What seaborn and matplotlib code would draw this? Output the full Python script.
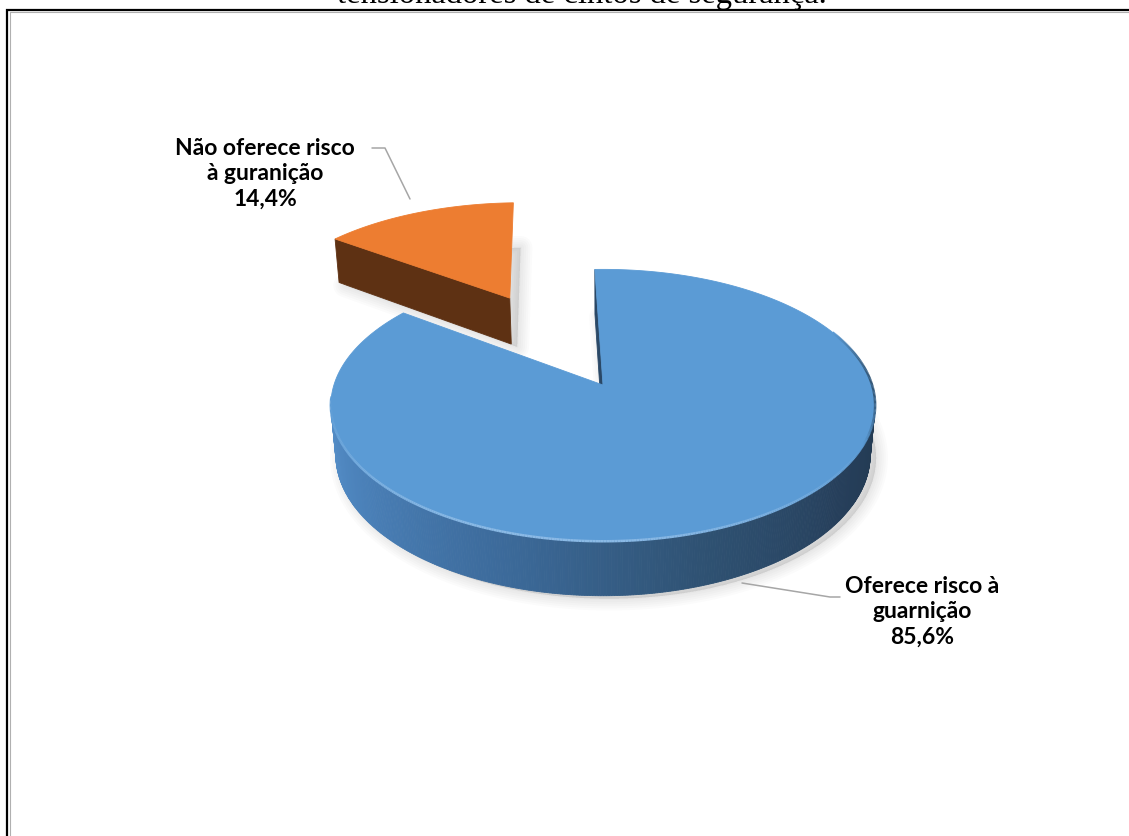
import numpy as np
import matplotlib
matplotlib.use("Agg")
import matplotlib.pyplot as plt
import seaborn as sns
from matplotlib.patches import Polygon
from matplotlib.collections import LineCollection
from matplotlib.colors import LinearSegmentedColormap, to_rgb

sns.set_theme(style="white")
plt.rcParams["font.family"] = ["Lato", "DejaVu Sans"]

# ---- data ----
labels = ["Não oferece risco\nà guranição", "Oferece risco à\nguarnição"]
values = [14.4, 85.6]
top_colors = ["#ED7D31", "#5B9BD5"]
side_colors = ["#5E3113", "#2A4866"]
explode = [0.82, 0.0]
heading = "tensionadores de cintos de segurança."

# ---- 3D view of the pie (unit radius disc, perspective camera) ----
phi = np.radians(29.6)          # elevation of the camera
dist = 5.82                     # camera distance in radii
focal = 1566.0                  # pixels per unit at the image plane
cx, cy = 603.0, 385.0           # image position of the pie centre
thick = 0.2145                  # disc thickness in radii
start_angle = 92.0

cphi, sphi = np.cos(phi), np.sin(phi)
camera = np.array([0.0, -dist * cphi, dist * sphi])


def project(X, Y, Z):
    X, Y, Z = np.asarray(X, float), np.asarray(Y, float), np.asarray(Z, float)
    yc = Y * sphi + Z * cphi
    zc = dist + Y * cphi - Z * sphi
    return cx + focal * X / zc, cy - focal * yc / zc, zc


def facing(point, normal):
    return float(np.dot(camera - np.asarray(point), np.asarray(normal))) > 0


blue_wall = LinearSegmentedColormap.from_list(
    "wall", ["#5A95D0", "#4A80B8", "#3C6A9A", "#2F5273", "#263F5B", "#22394F"])


def wall_color(theta_deg, idx):
    if idx == 0:
        return side_colors[0]
    t = ((theta_deg % 360) - 180.0) / 180.0
    t = np.clip(t, 0, 1)
    return blue_wall(t)


def poly_area(pts):
    p = np.asarray(pts)
    x, y = p[:, 0], p[:, 1]
    return 0.5 * abs(np.dot(x, np.roll(y, 1)) - np.dot(y, np.roll(x, 1)))


fig = plt.figure(figsize=(11.29, 8.36), dpi=100)
ax = fig.add_axes([0, 0, 1, 1])
ax.set_xlim(0, 1129)
ax.set_ylim(836, 0)
ax.axis("off")

total = float(sum(values))
slices = []
a0 = start_angle
for i, v in enumerate(values):
    span = 360.0 * v / total
    a1 = a0 + span
    mid = np.radians((a0 + a1) / 2)
    ox, oy = explode[i] * np.cos(mid), explode[i] * np.sin(mid)
    slices.append((i, a0, a1, ox, oy))
    a0 = a1

# far slices first
order = sorted(slices, key=lambda s: -project(s[3], s[4], 0)[2])

# soft floor shadow
for i, a0, a1, ox, oy in order:
    th = np.radians(np.linspace(a0, a1, 200))
    X = np.concatenate([[ox], ox + np.cos(th)])
    Y = np.concatenate([[oy], oy + np.sin(th)])
    px, py, _ = project(X, Y, np.full_like(X, -thick))
    pts = np.column_stack([px + 6, py + 3])
    for k in range(6):
        ax.add_patch(Polygon(pts, closed=True, facecolor="#000000", edgecolor="#000000",
                             alpha=0.016, lw=2 + 3 * k, joinstyle="round", zorder=1))

for i, a0, a1, ox, oy in order:
    n = max(int((a1 - a0) * 2), 20)
    th_deg = np.linspace(a0, a1, n)
    th = np.radians(th_deg)
    RX, RY = ox + np.cos(th), oy + np.sin(th)
    tx, ty, tz = project(RX, RY, np.zeros(n))
    bx, by, bz = project(RX, RY, np.full(n, -thick))
    vtx = project(ox, oy, 0)
    vbx = project(ox, oy, -thick)

    faces = []
    # outer wall, only the parts turned towards the camera
    for j in range(n - 1):
        tm = np.radians((th_deg[j] + th_deg[j + 1]) / 2)
        pm = (ox + np.cos(tm), oy + np.sin(tm), -thick / 2)
        if not facing(pm, (np.cos(tm), np.sin(tm), 0)):
            continue
        quad = [(tx[j], ty[j]), (tx[j + 1], ty[j + 1]), (bx[j + 1], by[j + 1]), (bx[j], by[j])]
        depth = (tz[j] + tz[j + 1] + bz[j] + bz[j + 1]) / 4
        faces.append((depth, quad, wall_color(np.degrees(tm), i)))
    # the two radial cut faces
    for k, ang in ((0, a0), (n - 1, a1)):
        r = np.radians(ang)
        normal = (np.sin(r), -np.cos(r), 0) if k == 0 else (-np.sin(r), np.cos(r), 0)
        if not facing((ox, oy, -thick / 2), normal):
            continue
        quad = [(vtx[0], vtx[1]), (tx[k], ty[k]), (bx[k], by[k]), (vbx[0], vbx[1])]
        # an exploded wedge shows only its broad cut face; slivers stay hidden
        if explode[i] > 0 and poly_area(quad) < 600:
            continue
        depth = (vtx[2] + tz[k] + bz[k] + vbx[2]) / 4
        faces.append((depth, quad, side_colors[i]))
    faces.sort(key=lambda f: -f[0])
    for _, quad, col in faces:
        ax.add_patch(Polygon(quad, closed=True, facecolor=col, edgecolor=col,
                             lw=0.6, zorder=2))

    top = np.column_stack([np.concatenate([[vtx[0]], tx]), np.concatenate([[vtx[1]], ty])])
    ax.add_patch(Polygon(top, closed=True, facecolor=top_colors[i],
                         edgecolor=top_colors[i], lw=0.6, zorder=3))

    # bevel along the rim of the top face: light at the front, dark at the right
    if i == 1:
        segs, cols = [], []
        base = np.array(to_rgb(top_colors[i]))
        light = np.array([0.78, 0.88, 0.98])
        for j in range(n - 1):
            ang = ((th_deg[j] + th_deg[j + 1]) / 2) % 360
            if 185 <= ang <= 335:
                w = np.sin(np.radians((ang - 185) * 180 / 150))
                c = base + (light - base) * 0.45 * w
            elif ang > 335 or ang < 25:
                d = ang - 335 if ang > 335 else ang + 25
                w = np.sin(np.radians(d * 180 / 50))
                c = base * (1 - 0.45 * w)
            else:
                continue
            segs.append([(tx[j], ty[j]), (tx[j + 1], ty[j + 1])])
            cols.append(np.clip(c, 0, 1))
        ax.add_collection(LineCollection(segs, colors=cols, linewidths=1.8, zorder=4,
                                         capstyle="butt"))


def pct(v):
    return f"{v:.1f}".replace(".", ",") + "%"


# leader lines and labels
ax.plot([372, 385, 410], [148, 148, 199], color="#A6A6A6", lw=1.1, zorder=5)
ax.plot([742, 830, 840], [583, 597, 597], color="#A6A6A6", lw=1.1, zorder=5)

ax.text(265, 174, f"{labels[0]}\n{pct(values[0])}", ha="center", va="center",
        fontsize=16.5, fontweight="bold", color="#000000", linespacing=1.27, zorder=6)
ax.text(922, 612, f"{labels[1]}\n{pct(values[1])}", ha="center", va="center",
        fontsize=16.5, fontweight="bold", color="#000000", linespacing=1.27, zorder=6)

# heading running above the frame
ax.text(582, 3.0, heading, ha="center", va="baseline", fontsize=23.5,
        family=["Liberation Serif", "DejaVu Serif"], color="#000000", clip_on=False, zorder=6)

# frame
ax.plot([7, 7, 1129], [836, 9.5, 9.5], color="#000000", lw=1.6, solid_joinstyle="miter", zorder=7)
ax.plot([9.5, 9.5, 1129], [836, 12, 12], color="#B0B0B0", lw=0.8, zorder=7)

fig.savefig("out.png", dpi=100)
